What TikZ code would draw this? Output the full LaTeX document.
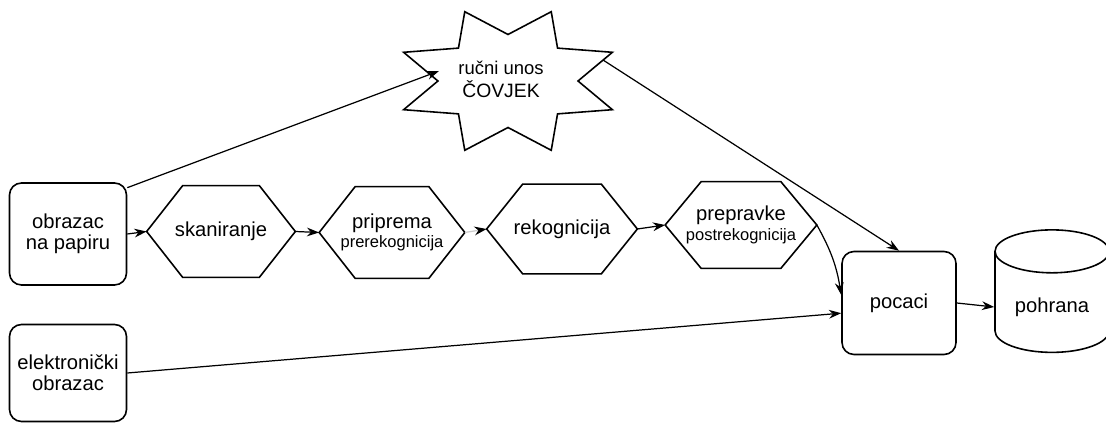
\documentclass[tikz,border=0pt]{standalone}
\usepackage{fontspec}
\setmainfont{Liberation Sans}
\usetikzlibrary{shapes.geometric,arrows.meta}

\begin{document}
\begin{tikzpicture}
  [every node/.style={align=center,font=\fontsize{11.5}{12}\selectfont},
   box/.style={draw,line width=0.9pt,rounded corners=0.24cm,minimum width=2.34cm,minimum height=2.04cm,inner sep=1pt},
   hexa/.style={inner sep=0pt,minimum width=2.96cm,minimum height=1.82cm,
     append after command={\pgfextra{\draw[line width=0.9pt]
       ([xshift=0.72cm]\tikzlastnode.north west) -- ([xshift=-0.72cm]\tikzlastnode.north east)
       -- (\tikzlastnode.east) -- ([xshift=-0.72cm]\tikzlastnode.south east)
       -- ([xshift=0.72cm]\tikzlastnode.south west) -- (\tikzlastnode.west) -- cycle;}}},
   baza/.style={draw,line width=0.9pt,cylinder,shape border rotate=90,aspect=0.5,
     minimum width=2.28cm,minimum height=2.45cm},
   arr/.style={-{Stealth[length=7pt,width=5pt]},line width=0.7pt}]
  \useasboundingbox (0,0) rectangle (22.12,8.46);

  \node[box] (papir) at (1.36,3.78) {obrazac\\na papiru};
  \node[box,minimum height=1.94cm] (elektr) at (1.36,1.0) {elektronički\\obrazac};
  \node[hexa] (skan) at (4.42,3.83) {skaniranje};
  \node[hexa,minimum width=2.9cm] (prip) at (7.84,3.81) {priprema\\[-1pt]{\fontsize{9.4}{11}\selectfont prerekognicija}};
  \node[hexa,minimum width=3.0cm,minimum height=1.78cm] (rekog) at (11.24,3.88) {rekognicija};
  \node[hexa,minimum width=3.02cm,minimum height=1.72cm] (prepr) at (14.82,3.96) {prepravke\\[-1pt]{\fontsize{9.4}{11}\selectfont postrekognicija}};
  \node[box,minimum width=2.28cm,minimum height=2.06cm] (podaci) at (17.98,2.40) {pocaci};
  \node[baza] (pohr) at (21.04,2.32) {pohrana};

  % zvijezda
  \coordinate (zv) at (10.16,6.84);
  \draw[line width=0.9pt] (11.56,6.84)
    \foreach \k [evaluate=\k as \r using {mod(\k,2)==1 ? 1 : 0.62}] in {1,...,15}
      { -- ({10.16+2.26*\r*cos(22.5*\k)},{6.84+1.5*\r*sin(22.5*\k)}) } -- cycle;
  \node[font=\fontsize{10.5}{13}\selectfont] (covjek) at (10.02,6.88) {ručni unos\\{\fontsize{11}{12}\selectfont ČOVJEK}};
  \coordinate (zvL) at (8.78,7.04);
  \coordinate (zvR) at (12.06,7.26);

  \draw[arr] (papir.east) -- (skan.west);
  \draw[arr] (skan.east) -- (prip.west);
  \draw[arr,draw=black!20,-{Stealth[length=7pt,width=5pt,black]}] (prip.east) -- (rekog.west);
  \draw[arr] (rekog.east) -- (prepr.west);
  \draw[arr] (prepr.east) to[bend left=10] (podaci.172);
  \draw[arr] (papir.38) -- (zvL);
  \draw[arr] (zvR) -- (podaci.north);
  \draw[arr] (elektr.east) -- (podaci.190);
  \draw[arr] (podaci.east) -- (pohr.west);
\end{tikzpicture}
\end{document}
